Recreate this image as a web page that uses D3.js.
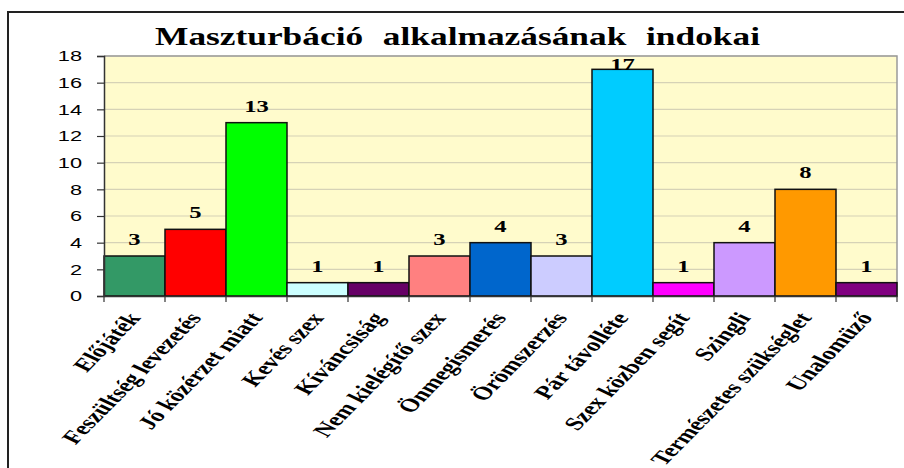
<!DOCTYPE html>
<html><head><meta charset="utf-8">
<script src="https://cdn.jsdelivr.net/npm/d3@7"></script>
<style>html,body{margin:0;padding:0;background:#fff;}svg{display:block;}</style>
</head><body>
<script>
const categories = ["Előjáték","Feszültség levezetés","Jó közérzet miatt","Kevés szex","Kíváncsiság","Nem kielégítő szex","Önmegismerés","Örömszerzés","Pár távolléte","Szex közben segít","Szingli","Természetes szükséglet","Unalomüző"];
const values = [3,5,13,1,1,3,4,3,17,1,4,8,1];
const colors = ["#339966","#FF0000","#00FF00","#CCFFFF","#660066","#FF8080","#0066CC","#CCCCFF","#00CCFF","#FF00FF","#CC99FF","#FF9900","#800080"];
const yTicks = [0,2,4,6,8,10,12,14,16,18];
const title = "Maszturbáció alkalmazásának indokai";

const W=904,H=468, SX=1.45;
const serif="'Times New Roman','Liberation Serif',serif";
const svg=d3.select("body").append("svg").attr("width",W).attr("height",H);
const m={left:104,right:897,top:56,bottom:296};
const x=d3.scaleBand().domain(categories).range([m.left,m.right]).padding(0);
const y=d3.scaleLinear().domain([0,18]).range([m.bottom,m.top]);

// outer frame
svg.append("path").attr("d",`M8,${H}V12H${W}`).attr("fill","none").attr("stroke","#222").attr("stroke-width",2);

// plot bg
svg.append("rect").attr("x",m.left).attr("y",m.top).attr("width",m.right-m.left).attr("height",m.bottom-m.top).attr("fill","#FFFBCC");
// grid
svg.append("g").selectAll("line").data(yTicks.filter(d=>d>0)).join("line")
  .attr("x1",m.left).attr("x2",m.right).attr("y1",d=>y(d)).attr("y2",d=>y(d))
  .attr("stroke","#D6D2B6").attr("stroke-width",1.2);
// plot border top/right
svg.append("path").attr("d",`M${m.left},${m.top}H${m.right}V${m.bottom}`).attr("fill","none").attr("stroke","#9a9a9a").attr("stroke-width",1.5);

// bars
svg.append("g").selectAll("rect").data(categories).join("rect")
  .attr("x",d=>x(d)).attr("width",x.bandwidth())
  .attr("y",(d,i)=>y(values[i])).attr("height",(d,i)=>y(0)-y(values[i]))
  .attr("fill",(d,i)=>colors[i]).attr("stroke","#111").attr("stroke-width",1.5);

// y axis
const ya=svg.append("g").attr("transform",`translate(${m.left},0)`)
  .call(d3.axisLeft(y).tickValues(yTicks).tickSize(7).tickFormat(""));
ya.select(".domain").attr("stroke","#333").attr("stroke-width",1.5);
ya.selectAll(".tick line").attr("stroke","#333").attr("stroke-width",1.2);
svg.append("g").selectAll("text").data(yTicks).join("text")
  .attr("transform",d=>`translate(82,${y(d)}) scale(${SX},1)`)
  .attr("dy","0.36em").attr("text-anchor","end")
  .attr("font-family","Arial, 'Liberation Sans', sans-serif").attr("font-size",15).attr("fill","#000")
  .text(d=>d);

// x axis
const xa=svg.append("g").attr("transform",`translate(0,${m.bottom})`)
  .call(d3.axisBottom(x).tickSize(0).tickFormat(""));
xa.select(".domain").attr("stroke","#333").attr("stroke-width",1.5);
svg.append("g").selectAll("line").data(d3.range(categories.length+1)).join("line")
  .attr("x1",i=>m.left+i*x.step()).attr("x2",i=>m.left+i*x.step())
  .attr("y1",m.bottom).attr("y2",m.bottom+6).attr("stroke","#333").attr("stroke-width",1.2);

// x labels
svg.append("g").selectAll("text").data(categories).join("text")
  .attr("transform",d=>`translate(${x(d)+x.bandwidth()/2+7},${m.bottom+22}) scale(${SX},1) rotate(-55.5)`)
  .attr("text-anchor","end")
  .attr("font-family",serif).attr("font-weight","bold").attr("font-size",18.5)
  .text(d=>d);

// value labels
svg.append("g").selectAll("text").data(categories).join("text")
  .attr("transform",(d,i)=>`translate(${x(d)+x.bandwidth()/2},${Math.max(y(values[i])-11, m.top+14)}) scale(${SX},1)`)
  .attr("text-anchor","middle")
  .attr("font-family",serif).attr("font-weight","bold").attr("font-size",17)
  .text((d,i)=>values[i]);

// title
svg.append("text").attr("transform",`translate(457.5,45) scale(1.36,1)`).attr("text-anchor","middle")
  .attr("font-family",serif).attr("font-weight","bold").attr("font-size",26)
  .attr("word-spacing",8)
  .text(title);
</script>
</body></html>
